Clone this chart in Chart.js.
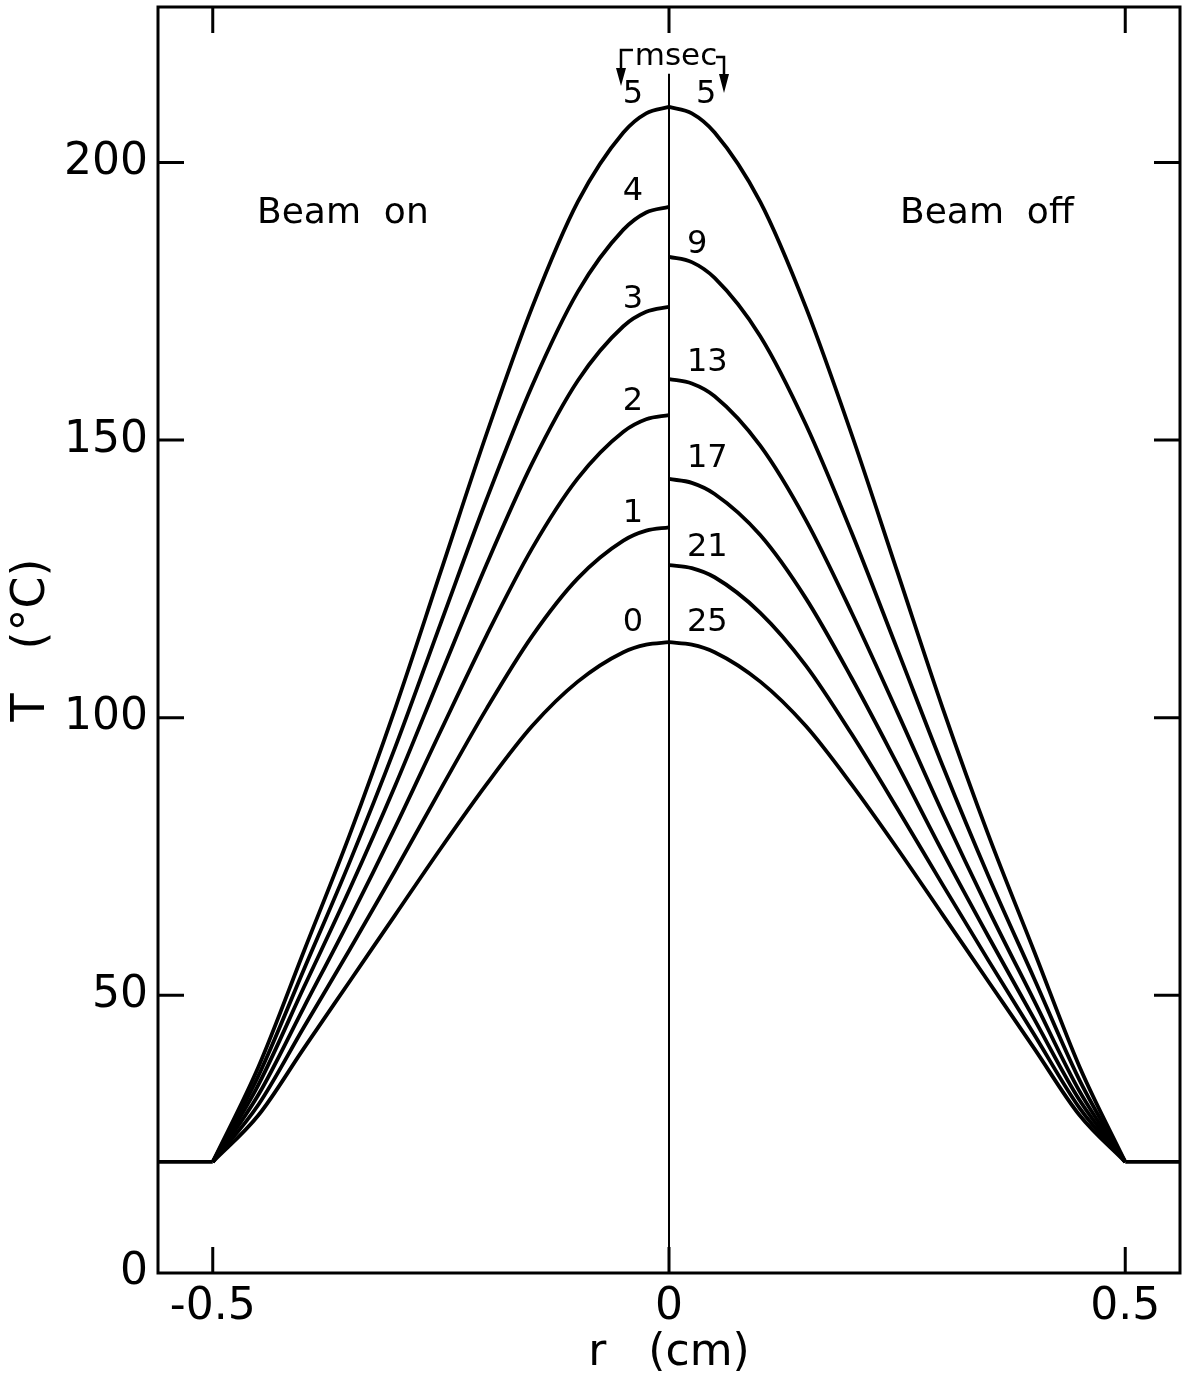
<!DOCTYPE html>
<html>
<head>
<meta charset="utf-8">
<script src="https://cdn.jsdelivr.net/npm/chart.js@4.4.1/dist/chart.umd.min.js"></script>
<style>
  html, body { margin: 0; padding: 0; background: #fff; }
  #wrap { width: 1183px; height: 1384px; }
</style>
</head>
<body>
<div id="wrap"><canvas id="chart" width="1183" height="1384"></canvas></div>
<script>
// ---- data ----
// radius (cm), left half = beam on, right half = beam off
const rLeft  = [-0.5, -0.45, -0.4, -0.35, -0.3, -0.25, -0.2, -0.15, -0.1, -0.05, -0.025, 0];
const rRight = [0, 0.025, 0.05, 0.1, 0.15, 0.2, 0.25, 0.3, 0.35, 0.4, 0.45, 0.5];

// beam on, T (degC) at each rLeft
const on0 = [20, 28.4, 40.5, 52.5, 64.5, 76.5, 88.0, 98.5, 106.5, 111.8, 113.15, 113.6];
const on1 = [20, 30.3, 44.3, 58.2, 72.5, 87.2, 101.6, 114.7, 125.1, 131.9, 133.7, 134.3];
const on2 = [20, 32.1, 47.9, 63.7, 80.3, 97.7, 114.8, 130.5, 143.1, 151.5, 153.75, 154.5];
const on3 = [20, 33.9, 51.5, 69.1, 87.8, 107.8, 127.6, 145.8, 160.7, 170.5, 173.1, 174.0];
const on4 = [20, 35.5, 54.7, 74.0, 94.7, 117.1, 139.3, 159.8, 176.7, 187.9, 191.0, 192.0];
const on5 = [20, 37.1, 58.0, 78.9, 101.7, 126.4, 151.1, 173.9, 192.9, 205.4, 208.85, 210.0];

// beam off, T (degC) at each rRight
const off5  = [210.0, 208.85, 205.4, 192.9, 173.9, 151.1, 126.4, 101.7, 78.9, 58.0, 37.1, 20];
const off9  = [183.0, 182.05, 179.2, 168.7, 152.8, 133.4, 112.4, 91.3, 71.5, 53.1, 34.7, 20];
const off13 = [161.0, 160.2, 157.9, 149.0, 135.6, 119.0, 101.1, 82.8, 65.5, 49.1, 32.7, 20];
const off17 = [143.0, 142.3, 140.3, 132.9, 121.5, 107.2, 91.7, 75.8, 60.6, 45.8, 31.1, 20];
const off21 = [127.5, 126.95, 125.3, 118.9, 109.4, 97.1, 83.7, 69.9, 56.3, 43.0, 29.7, 20];
const off25 = [113.6, 113.15, 111.8, 106.5, 98.5, 88.0, 76.5, 64.5, 52.5, 40.5, 28.4, 20];

const onTimes  = ["0", "1", "2", "3", "4", "5"];
const offTimes = ["5", "9", "13", "17", "21", "25"];
const onSeries  = [on0, on1, on2, on3, on4, on5];
const offSeries = [off5, off9, off13, off17, off21, off25];

// flat part outside the heated zone, and the r = 0 divider
const baseLeftR  = [-0.56, -0.5];
const baseRightR = [0.5, 0.56];
const baseT      = [20, 20];
const dividerR   = [0, 0];
const dividerT   = [0, 216];

const xTicks = [-0.5, 0, 0.5];
const yTicks = [0, 50, 100, 150, 200];

const FONT = "'DejaVu Sans', sans-serif";

function pts(xs, ys) { return xs.map((x, i) => ({ x: x, y: ys[i] })); }
function curve(data) {
  return { data: data, borderColor: "#000", borderWidth: 3.8, pointRadius: 0,
           fill: false, cubicInterpolationMode: "monotone" };
}

const datasets = [];
onSeries.forEach(s => datasets.push(curve(pts(rLeft, s))));
offSeries.forEach(s => datasets.push(curve(pts(rRight, s))));
datasets.push(Object.assign(curve(pts(baseLeftR, baseT)), { cubicInterpolationMode: "default", tension: 0 }));
datasets.push(Object.assign(curve(pts(baseRightR, baseT)), { cubicInterpolationMode: "default", tension: 0 }));
datasets.push({ data: pts(dividerR, dividerT), borderColor: "#000", borderWidth: 2, pointRadius: 0, tension: 0 });

// how far (px) each curve label sits above its curve's end at r = 0
const onLift  = [20, 14, 13, 7, 15, 12];
const offLift = [12, 12, 16, 20, 17, 20];

// frame, inward ticks and the lettering on the plot
const decor = {
  id: "decor",
  afterDatasetsDraw(chart) {
    const ctx = chart.ctx;
    const a = chart.chartArea;
    const xs = chart.scales.x, ys = chart.scales.y;
    ctx.save();
    ctx.strokeStyle = "#000";
    ctx.fillStyle = "#000";
    ctx.lineWidth = 3;
    ctx.strokeRect(a.left, a.top, a.right - a.left, a.bottom - a.top);

    const tl = 26;
    ctx.beginPath();
    xTicks.forEach(v => {
      const px = xs.getPixelForValue(v);
      ctx.moveTo(px, a.bottom); ctx.lineTo(px, a.bottom - tl);
      ctx.moveTo(px, a.top);    ctx.lineTo(px, a.top + tl);
    });
    yTicks.slice(1).forEach(v => {
      const py = ys.getPixelForValue(v);
      ctx.moveTo(a.left, py);  ctx.lineTo(a.left + tl, py);
      ctx.moveTo(a.right, py); ctx.lineTo(a.right - tl, py);
    });
    ctx.stroke();

    // curve labels
    const x0 = xs.getPixelForValue(0);
    ctx.font = "32px " + FONT;
    ctx.textBaseline = "middle";
    ctx.textAlign = "right";
    onSeries.forEach((s, i) => {
      ctx.fillText(onTimes[i], x0 - 26, ys.getPixelForValue(s[s.length - 1]) - onLift[i]);
    });
    ctx.textAlign = "left";
    offSeries.forEach((s, i) => {
      const dx = i === 0 ? 27 : 18;
      ctx.fillText(offTimes[i], x0 + dx, ys.getPixelForValue(s[0]) - offLift[i]);
    });

    // msec with bent arrows
    ctx.font = "31px " + FONT;
    ctx.textAlign = "center";
    ctx.textBaseline = "alphabetic";
    ctx.fillText("msec", x0 + 7, 65);
    ctx.lineWidth = 2.5;
    ctx.beginPath();
    ctx.moveTo(x0 - 36, 50); ctx.lineTo(x0 - 48, 50); ctx.lineTo(x0 - 48, 72);
    ctx.moveTo(x0 + 47, 57); ctx.lineTo(x0 + 55, 57); ctx.lineTo(x0 + 55, 78);
    ctx.stroke();
    ctx.beginPath();
    ctx.moveTo(x0 - 53, 68); ctx.lineTo(x0 - 43, 68); ctx.lineTo(x0 - 48, 86); ctx.closePath();
    ctx.moveTo(x0 + 50, 74); ctx.lineTo(x0 + 60, 74); ctx.lineTo(x0 + 55, 93); ctx.closePath();
    ctx.fill();

    ctx.font = "36px " + FONT;
    ctx.textAlign = "left";
    ctx.fillText("Beam  on", 257, 223);
    ctx.fillText("Beam  off", 900, 223);
    ctx.restore();
  }
};

new Chart(document.getElementById("chart"), {
  type: "line",
  data: { datasets: datasets },
  options: {
    responsive: false,
    animation: false,
    events: [],
    layout: { padding: { top: 7, right: 3, left: 0, bottom: 0 } },
    plugins: { legend: { display: false }, tooltip: { enabled: false } },
    scales: {
      x: {
        type: "linear", min: -0.56, max: 0.56,
        afterBuildTicks: s => { s.ticks = xTicks.map(v => ({ value: v })); },
        afterFit: s => { s.height = 111; s.paddingLeft = 0; s.paddingRight = 0; },
        grid: { display: false, drawTicks: false },
        border: { display: false },
        ticks: { color: "#000", padding: 8, font: { family: FONT, size: 44 },
                 callback: v => String(v) },
        title: { display: true, text: "r   (cm)", color: "#000",
                 font: { family: FONT, size: 44 }, padding: { top: 0, bottom: 4 } }
      },
      y: {
        type: "linear", min: 0, max: 228,
        afterBuildTicks: s => { s.ticks = yTicks.map(v => ({ value: v })); },
        afterFit: s => { s.width = 158; s.paddingTop = 0; s.paddingBottom = 0; },
        grid: { display: false, drawTicks: false },
        border: { display: false },
        ticks: { color: "#000", padding: 10, font: { family: FONT, size: 44 } },
        title: { display: true, text: "T   (°C)", color: "#000",
                 font: { family: FONT, size: 46 }, padding: { top: 4, bottom: 0 } }
      }
    }
  },
  plugins: [decor]
});
</script>
</body>
</html>
